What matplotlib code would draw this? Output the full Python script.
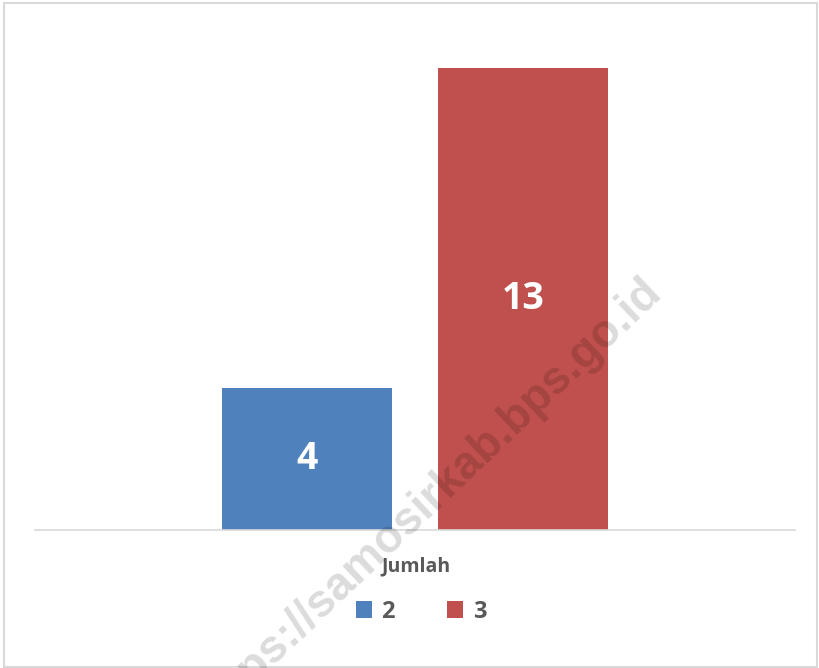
import matplotlib.pyplot as plt
from matplotlib.patches import Rectangle
import numpy as np

# data
category = 'Jumlah'
series_names = ['2', '3']
series_values = [4, 13]
series_colors = ['#4f81bd', '#c0504d']

plt.rcParams['font.family'] = ['Open Sans', 'DejaVu Sans']

fig = plt.figure(figsize=(8.2, 6.68), dpi=100)
ax = fig.add_axes([35 / 820, 138 / 668, 760 / 820, 498 / 668])

width = 1.0
offsets = np.array([-0.635, 0.635])
for name, val, col, off in zip(series_names, series_values, series_colors, offsets):
    ax.bar(off, val, width, color=col, label=name, zorder=2)
    ax.text(off, val / 2, str(val), ha='center', va='center', color='white',
            fontsize=27, fontweight='bold', zorder=3)

ax.set_xlim(-2.235, 2.235)
ax.set_ylim(0, 14)
ax.set_yticks([])
ax.set_xticks([])
for s in ['top', 'left', 'right']:
    ax.spines[s].set_visible(False)
ax.spines['bottom'].set_color('#d9d9d9')
ax.spines['bottom'].set_linewidth(1.2)

# category label
fig.text(416 / 820, 1 - 566 / 668, category, ha='center', va='center',
         fontsize=14, fontweight='bold', color='#595959')

# legend
leg = fig.legend(loc='center', bbox_to_anchor=(421 / 820, 1 - 612 / 668), ncol=2,
                 frameon=False, handlelength=0.7, handleheight=0.7, handletextpad=0.4,
                 columnspacing=2.2, prop={'size': 17, 'weight': 'bold'})
for t in leg.get_texts():
    t.set_color('#595959')

# watermark (runs off the bottom edge, as in the original)
fig.text(428 / 820, 1 - 500 / 668, 'https://samosirkab.bps.go.id', ha='center', va='center',
         rotation=43.5, rotation_mode='anchor', fontsize=33, fontweight='bold',
         family='Liberation Sans', color='black', alpha=0.14, zorder=10)

# outer border
fig.patches.append(Rectangle((4 / 820, 1 / 668), 813 / 820, 664 / 668, transform=fig.transFigure,
                             fill=False, edgecolor='#d9d9d9', linewidth=1.5))

plt.savefig('out.png', dpi=100)
